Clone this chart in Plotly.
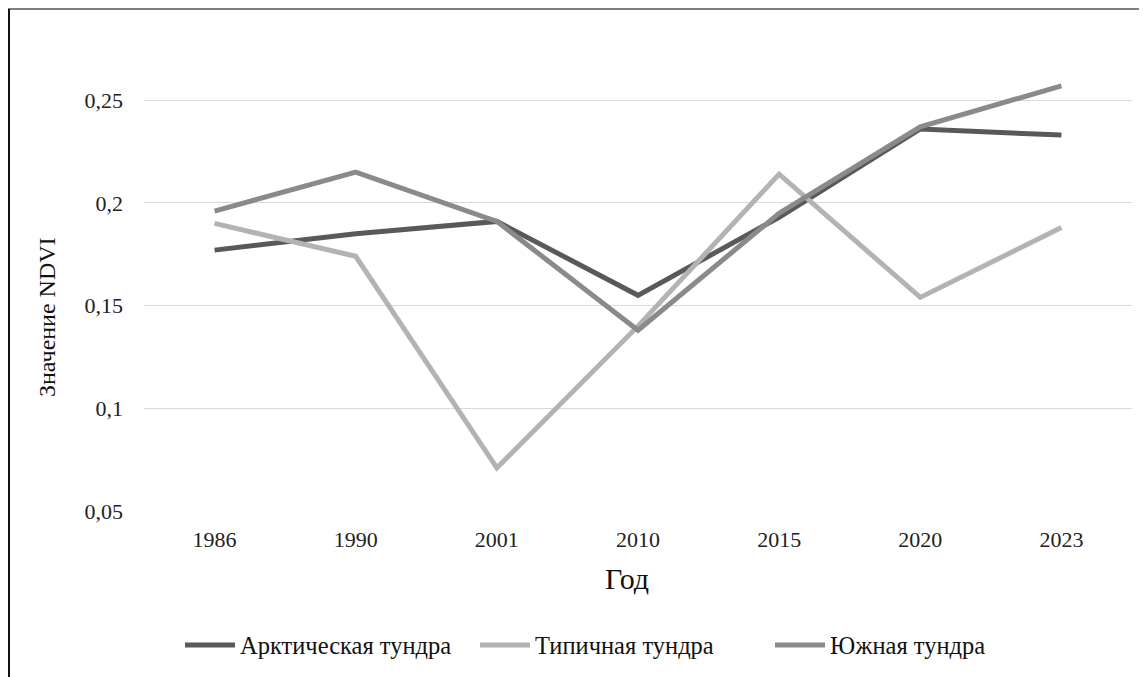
import plotly.graph_objects as go

years = ["1986", "1990", "2001", "2010", "2015", "2020", "2023"]
arctic = [0.177, 0.185, 0.191, 0.155, 0.193, 0.236, 0.233]
typical = [0.190, 0.174, 0.071, 0.140, 0.214, 0.154, 0.188]
southern = [0.196, 0.215, 0.191, 0.138, 0.195, 0.237, 0.257]

y_ticks = [0.05, 0.1, 0.15, 0.2, 0.25]
y_tick_text = ["0,05", "0,1", "0,15", "0,2", "0,25"]

series = [
    ("Арктическая тундра", arctic, "#595959"),
    ("Типичная тундра", typical, "#b3b3b3"),
    ("Южная тундра", southern, "#8a8a8a"),
]

W, H = 1147, 677
OFF = 8  # page body margin
L = 144 - OFF
T = 20 - OFF
R = W - (1132 - OFF)
B = H - (511 - OFF)
pw, ph = W - L - R, H - T - B


def px(x):
    return (x - OFF - L) / pw


def py(y):
    return (H - B - (y - OFF)) / ph


FONT = "'Liberation Serif', 'Times New Roman', serif"

fig = go.Figure()
for name, vals, color in series:
    fig.add_trace(go.Scatter(
        x=years, y=vals, name=name, mode="lines",
        line=dict(color=color, width=5),
    ))

fig.update_layout(
    width=W, height=H,
    margin=dict(l=L, r=R, t=T, b=B, autoexpand=False),
    paper_bgcolor="white", plot_bgcolor="white",
    font=dict(family=FONT, size=22, color="#222"),
    showlegend=True,
    legend=dict(
        orientation="h", x=px(180), y=py(645), xanchor="left", yanchor="middle",
        font=dict(family=FONT, size=24.5, color="#111"),
        itemwidth=50, tracegroupgap=0,
        entrywidth=230, entrywidthmode="pixels",
    ),
    xaxis=dict(
        type="category", range=[-0.5, len(years) - 0.5],
        showgrid=False, zeroline=False, showline=False,
        ticks="", ticklabelstandoff=13,
        tickfont=dict(family=FONT, size=22, color="#222"),
    ),
    yaxis=dict(
        range=[0.05, 0.05 + ph / 2054], tickvals=y_ticks, ticktext=y_tick_text,
        showgrid=True, gridcolor="#d9d9d9", gridwidth=1.3,
        zeroline=False, showline=False, ticks="", ticklabelstandoff=20,
        tickfont=dict(family=FONT, size=22, color="#222"),
    ),
    annotations=[
        dict(text="Значение NDVI", x=px(47), y=py(317), xref="paper", yref="paper",
             textangle=-90, showarrow=False, xanchor="center", yanchor="middle",
             font=dict(family=FONT, size=24, color="#111")),
        dict(text="Год", x=px(627), y=py(578), xref="paper", yref="paper",
             showarrow=False, xanchor="center", yanchor="middle",
             font=dict(family=FONT, size=30, color="#111")),
    ],
    shapes=[
        dict(type="line", xref="paper", yref="paper",
             x0=px(8), x1=px(W + OFF), y0=py(9), y1=py(9),
             line=dict(color="#555", width=1.5)),
        dict(type="line", xref="paper", yref="paper",
             x0=px(9), x1=px(9), y0=py(9), y1=py(H + OFF),
             line=dict(color="#111", width=2)),
    ],
)

fig.write_html("out.html")
